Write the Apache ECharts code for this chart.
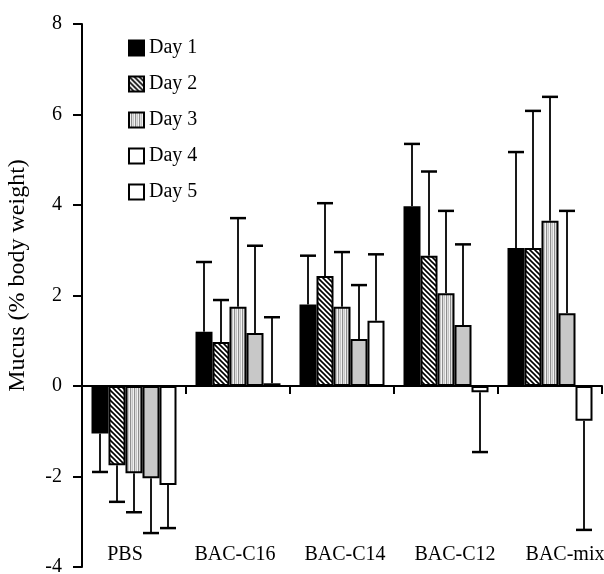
<!DOCTYPE html>
<html>
<head>
<meta charset="utf-8">
<script src="https://cdn.jsdelivr.net/npm/echarts@6/dist/echarts.min.js"></script>
<style>
  html, body { margin: 0; padding: 0; background: #fff; }
  #chart { width: 604px; height: 574px; }
</style>
</head>
<body>
<div id="chart"></div>
<script>
// groups on the x axis
const groups = ['PBS', 'BAC-C16', 'BAC-C14', 'BAC-C12', 'BAC-mix'];
const days = ['Day 1', 'Day 2', 'Day 3', 'Day 4', 'Day 5'];

// mean mucus per day, one value per group
const day1 = [-1.05, 1.2, 1.8, 3.97, 3.05];
const day2 = [-1.75, 0.97, 2.43, 2.88, 3.05];
const day3 = [-1.93, 1.75, 1.75, 2.05, 3.65];
const day4 = [-2.04, 1.17, 1.04, 1.35, 1.61];
const day5 = [-2.19, 0.06, 1.44, -0.14, -0.77];

// end of the error bar for each bar
const err1 = [-1.9, 2.74, 2.88, 5.35, 5.17];
const err2 = [-2.56, 1.9, 4.04, 4.74, 6.08];
const err3 = [-2.79, 3.71, 2.96, 3.87, 6.39];
const err4 = [-3.25, 3.1, 2.23, 3.13, 3.87];
const err5 = [-3.14, 1.52, 2.91, -1.46, -3.18];

const yTicks = [-4, -2, 0, 2, 4, 6, 8];

const means = [day1, day2, day3, day4, day5];
const errs = [err1, err2, err3, err4, err5];

// fill patterns
function hatchPattern() {
  const c = document.createElement('canvas');
  c.width = 5; c.height = 5;
  const ctx = c.getContext('2d');
  ctx.fillStyle = '#fff';
  ctx.fillRect(0, 0, 5, 5);
  ctx.strokeStyle = '#000';
  ctx.lineWidth = 1.6;
  ctx.beginPath();
  ctx.moveTo(-1, -1); ctx.lineTo(6, 6);
  ctx.moveTo(-1, 4); ctx.lineTo(1, 6);
  ctx.moveTo(4, -1); ctx.lineTo(6, 1);
  ctx.stroke();
  return c;
}
function stripePattern() {
  const c = document.createElement('canvas');
  c.width = 4; c.height = 4;
  const ctx = c.getContext('2d');
  const cols = ['#c4c4c4', '#f2f2f2', '#8e8e8e', '#dedede'];
  cols.forEach((col, i) => { ctx.fillStyle = col; ctx.fillRect(i, 0, 1, 4); });
  return c;
}

const fills = [
  '#000',
  { image: hatchPattern(), repeat: 'repeat' },
  { image: stripePattern(), repeat: 'repeat' },
  '#c8c8c8',
  '#fff'
];
const legendFills = [fills[0], fills[1], fills[2], '#fff', '#fff'];

const BAR_W = 17;
const serif = 'Liberation Serif';

const series = [];
days.forEach((d, i) => {
  series.push({
    name: d,
    type: 'bar',
    data: means[i],
    barWidth: BAR_W,
    barGap: '0%',
    itemStyle: { color: fills[i], borderColor: '#000', borderWidth: 2 },
    z: 2
  });
});
days.forEach((d, i) => {
  series.push({
    name: 'err ' + d,
    type: 'custom',
    z: 3,
    data: groups.map((g, k) => [k, means[i][k], errs[i][k]]),
    encode: { x: 0, y: 1 },
    renderItem: (params, api) => {
      const k = api.value(0);
      const top = api.coord([k, api.value(1)]);
      const end = api.coord([k, api.value(2)]);
      const x = top[0] + (i - 2) * BAR_W;
      const st = { stroke: '#1a1a1a', lineWidth: 2 };
      return {
        type: 'group',
        children: [
          { type: 'line', shape: { x1: x, y1: top[1], x2: x, y2: end[1] }, style: st },
          { type: 'line', shape: { x1: x - 8, y1: end[1], x2: x + 8, y2: end[1] }, style: { stroke: '#000', lineWidth: 2.5 } }
        ]
      };
    }
  });
});

const chart = echarts.init(document.getElementById('chart'));
chart.setOption({
  animation: false,
  grid: [
    { left: 82, right: 2, top: 24, bottom: 7, outerBoundsMode: 'none' },
    // label row, spaced a little wider than the bars as in the figure
    { left: 70, width: 550, top: 24, bottom: 7, outerBoundsMode: 'none' }
  ],
  legend: {
    orient: 'vertical',
    left: 123,
    top: 33,
    itemWidth: 15,
    itemHeight: 15,
    itemGap: 16,
    icon: 'rect',
    textStyle: { fontFamily: serif, fontSize: 20, color: '#000' },
    data: days.map((d, i) => ({
      name: d,
      itemStyle: { color: legendFills[i], borderColor: '#000', borderWidth: 2 }
    }))
  },
  xAxis: [
    {
      type: 'category',
      data: groups,
      axisLine: { onZero: true, lineStyle: { color: '#000', width: 2 } },
      axisTick: { show: true, length: 8, inside: false, lineStyle: { color: '#000', width: 2 } },
      axisLabel: { show: false }
    },
    {
      type: 'category',
      gridIndex: 1,
      data: groups,
      position: 'bottom',
      axisLine: { show: false },
      axisTick: { show: false },
      axisLabel: { fontFamily: serif, fontSize: 20, color: '#000', margin: -22, interval: 0 }
    }
  ],
  yAxis: [
    {
      type: 'value',
      min: -4,
      max: 8,
      interval: 2,
      name: 'Mucus (% body weight)',
      nameLocation: 'middle',
      nameGap: 52,
      nameTextStyle: { fontFamily: serif, fontSize: 24, color: '#000', padding: [0, 0, 0, 40] },
      axisLine: { show: true, lineStyle: { color: '#000', width: 2 } },
      axisTick: { show: true, length: 9, lineStyle: { color: '#000', width: 2 } },
      axisLabel: {
        fontFamily: serif, fontSize: 20, color: '#000', margin: 20,
        formatter: v => (yTicks.includes(v) ? String(v) : '')
      },
      splitLine: { show: false }
    },
    { type: 'value', gridIndex: 1, show: false, min: -4, max: 8 }
  ],
  series: series
});
</script>
</body>
</html>
